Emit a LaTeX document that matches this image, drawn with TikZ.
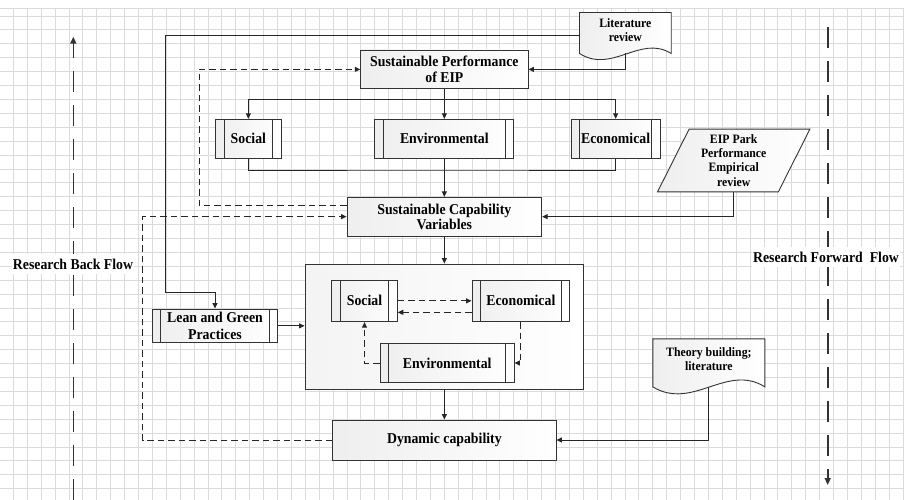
\documentclass[tikz,border=0pt]{standalone}
\usepackage{fontspec}
\setmainfont{Liberation Serif}[FakeStretch=0.92]
\usetikzlibrary{arrows.meta,calc}

\newcommand\mainfs{\fontsize{15}{15.4}\selectfont\bfseries}
\newcommand\smallfs{\fontsize{12.8}{14.2}\selectfont\bfseries}

\pgfdeclarelayer{gridlayer}
\pgfdeclarelayer{shapelayer}
\pgfsetlayers{gridlayer,shapelayer,main}

\begin{document}
\begin{tikzpicture}[x=1pt,y=-1pt,
  gridln/.style={draw=black!14, line width=0.8pt},
  box/.style={draw=black!80, line width=0.9pt, left color=gray!13, right color=white,
    inner sep=0pt, align=center, font=\mainfs, text=black},
  procbox/.style={box, path picture={
      \draw[black!80, line width=0.9pt]
        ([xshift=8.5pt]path picture bounding box.north west) -- ([xshift=8.5pt]path picture bounding box.south west)
        ([xshift=-8.5pt]path picture bounding box.north east) -- ([xshift=-8.5pt]path picture bounding box.south east);}},
  docnode/.style={draw=none, inner sep=0pt, align=center, font=\smallfs, text=black},
  docshade/.style={draw=black!80, line width=0.9pt, left color=gray!13, right color=white},
  conn/.style={draw=black!85, line width=0.9pt},
  arr/.style={conn, -{Triangle[length=5.5pt,width=5pt]}},
  dasharr/.style={arr, dash pattern=on 6.5pt off 4pt},
  flow/.style={draw=black!80, line width=1.6pt, dash pattern=on 21pt off 13pt,
    -{Triangle[length=7pt,width=6pt]}},
  flowlbl/.style={fill=white, inner xsep=1pt, inner ysep=5pt, font=\mainfs, text=black}
]
\useasboundingbox (0,0) rectangle (904,500);

% squared paper background
\begin{pgfonlayer}{gridlayer}
  \fill[white] (0,0) rectangle (904,500);
  \foreach \i in {0,...,64} \draw[gridln] (13.3+13.9*\i,8) -- (13.3+13.9*\i,500);
  \foreach \j in {0,...,34} \draw[gridln] (0,16+13.9*\j) -- (904,16+13.9*\j);
  \draw[gridln] (0,8) -- (904,8);
\end{pgfonlayer}

% research flow arrows
\coordinate (bb) at (73.3,500);
\coordinate (bt) at (73.3,36.7);
\draw[flow] (bb) -- (bt);
\node[flowlbl] (backlbl) at (73,264) {Research Back Flow};
\coordinate (ft) at (827.7,27);
\coordinate (fb) at (827.7,485);
\draw[flow] (ft) -- (fb);
\node[flowlbl] (fwdlbl) at (826,257) {Research Forward~ Flow};

% upper part
\node[box, minimum width=167.3pt, minimum height=38.7pt] (sp) at (444.35,69.35) {Sustainable Performance\\of EIP};
\node[procbox, minimum width=65.3pt, minimum height=39pt] (soc) at (248.35,138.8) {Social};
\node[procbox, minimum width=139pt, minimum height=39pt] (env) at (444.35,138.8) {Environmental};
\node[procbox, minimum width=89.3pt, minimum height=39pt] (eco) at (615.65,138.8) {Economical};
\node[box, minimum width=194.7pt, minimum height=38.7pt] (scv) at (444.35,216.65) {Sustainable Capability\\Variables};
\node[docnode, minimum width=91.3pt, minimum height=40.6pt,
  label={[docnode, yshift=2.5pt]center:{Literature\\review}}] (lit) at (625.35,33) {};
\node[docnode, minimum width=152pt, minimum height=62.4pt] (eip) at (733.7,160.5)
  {EIP Park\\Performance\\Empirical\\review};

% lower part
\node[box, left color=gray!9, right color=white, minimum width=278.7pt, minimum height=125pt] (big) at (444.35,326.5) {};
\node[procbox, minimum width=65.6pt, minimum height=41.7pt] (isoc) at (364.5,300.85) {Social};
\node[procbox, minimum width=97.7pt, minimum height=41.7pt] (ieco) at (520.85,300.85) {Economical};
\node[procbox, minimum width=133.7pt, minimum height=38.6pt] (ienv) at (447.15,363) {Environmental};
\node[procbox, minimum width=125.4pt, minimum height=33.7pt, font=\fontsize{15}{17}\selectfont\bfseries] (lg) at (215,325.85) {Lean and Green\\Practices};
\node[box, minimum width=223.3pt, minimum height=40pt] (dc) at (444.35,440) {Dynamic capability};
\node[docnode, minimum width=111.7pt, minimum height=47.7pt,
  label={[docnode, yshift=3.5pt]center:{Theory building;\\literature}}] (tb) at (708.85,362.85) {};

% document and data outlines behind their texts
\begin{pgfonlayer}{shapelayer}
  \draw[docshade] (lit.south west) -- (lit.north west) -- (lit.north east) -- (lit.south east)
    .. controls ($(lit.south east)+(-31,-19.3)$) and ($(lit.south east)+(-59,20.7)$) .. (lit.south west) -- cycle;
  \draw[docshade] (tb.south west) -- (tb.north west) -- (tb.north east) -- (tb.south east)
    .. controls ($(tb.south east)+(-38,-24)$) and ($(tb.south east)+(-72,24)$) .. (tb.south west) -- cycle;
  \draw[docshade] (eip.south west) -- ($(eip.north west)+(31.6,0)$) -- (eip.north east)
    -- ($(eip.south east)+(-31.6,0)$) -- cycle;
\end{pgfonlayer}

% junction points
\coordinate (jl) at (165.7,292.7);
\coordinate (b1) at (444.35,99);
\coordinate (b2) at (444.35,170);
\coordinate (d1) at (199,69.35);
\coordinate (d2) at (142.7,216.65);

% solid connectors
\draw[arr] ([yshift=-2.7pt]lit.west) -| (jl) -| (lg.north);
\draw[arr] (lit.south) |- (sp.east);
\draw[conn] (sp.south) -- (b1);
\draw[arr] (b1) -| (soc.north);
\draw[arr] (b1) -| (eco.north);
\draw[arr] (b1) -- (env.north);
\draw[conn] (soc.south) |- (b2) -| (eco.south);
\draw[arr] (env.south) -- (scv.north);
\draw[arr] (eip.south) |- (scv.east);
\draw[arr] (scv.south) -- (big.north);
\draw[arr] (lg.east) -- (lg.east -| big.west);
\draw[arr] (big.south) -- (dc.north);
\draw[arr] (tb.south) |- (dc.east);

% dashed feedback connectors
\draw[dasharr] ([yshift=10.95pt]scv.west) -| (d1) -- (sp.west);
\draw[dasharr] (dc.west) -| (d2) -- (scv.west);
\draw[dasharr] (isoc.east) -- (isoc.east -| ieco.west);
\draw[dasharr] ([yshift=-11.5pt]ieco.west) -- ([yshift=-11.5pt]ieco.west -| isoc.east);
\draw[dasharr] (ieco.south) |- (ienv.east);
\draw[dasharr] (ienv.west) -| (isoc.south);
\end{tikzpicture}
\end{document}
